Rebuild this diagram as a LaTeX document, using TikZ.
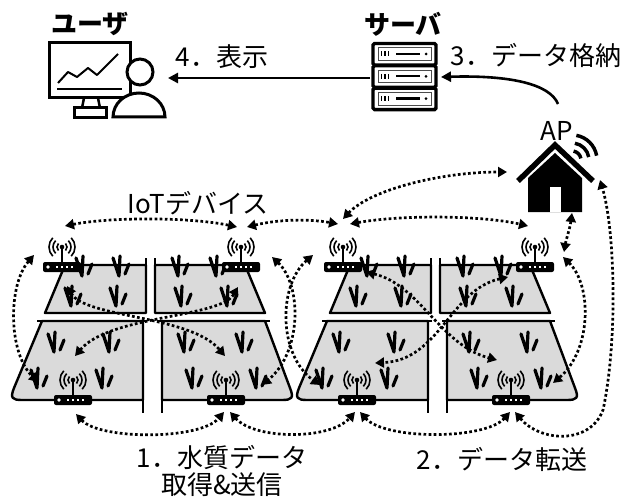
\documentclass[tikz,border=0pt]{standalone}
\usepackage{fontspec}
\newfontfamily\jp{Noto Sans CJK JP}
\usetikzlibrary{arrows.meta}
\definecolor{fieldgray}{RGB}{218,218,218}

\tikzset{
  plant/.pic={
    \draw[plantline] (-7,-8) -- (-1,10) -- (0,-10);
    \draw[plantline] (5,8) -- (9,-2);
  },
  router/.pic={
    \fill[rounded corners=2pt] (-19,-5) rectangle (19,5);
    \fill[white] (-14,0) circle (1.9);
    \foreach \xx in {-5,0,5,10} \fill[white] (\xx-1,-0.8) rectangle (\xx+1,0.8);
    \draw[line width=1.7pt] (0,-5) -- (0,-19);
    \fill (0,-20) circle (2.3);
    \foreach \rr in {5,9,13} {
      \draw[line width=1.6pt] (0,-20) ++(-45:\rr) arc[start angle=-45,end angle=45,radius=\rr];
      \draw[line width=1.6pt] (0,-20) ++(135:\rr) arc[start angle=135,end angle=225,radius=\rr];
    }
  },
  fieldset/.pic={
    % upper left plot
    \draw[field] (65,265) -- (146,265) -- (146,313) -- (45,313) -- cycle;
    \draw[edge] (146,258) -- (146,266);
    % upper right plot
    \draw[field] (155,265) -- (245,265) -- (265,313) -- (155,313) -- cycle;
    \draw[edge] (155,258) -- (155,266);
    % lower left plot
    \draw[field] (42,321) -- (14,388) .. controls (10,398) and (12,400) .. (22,400)
      -- (143,400) -- (143,321) -- cycle;
    \draw[edge] (143,399) -- (143,413);
    \draw[edge] (37,321) -- (147,321);
    % lower right plot
    \draw[field] (162,321) -- (265,321) -- (290,388) .. controls (294,398) and (292,400) .. (282,400)
      -- (162,400) -- cycle;
    \draw[edge] (162,399) -- (162,413);
    \draw[edge] (157,321) -- (270,321);
    % seedlings
    \foreach \px/\py in {83/266,120/266,72/296,117/296,
                         179/266,217/266,182/296,228/296,
                         55/342,110/342,38/378,103/378,
                         185/342,243/342,193/378,257/378}
      \pic at (\px,\py) {plant};
  },
}

\begin{document}
\begin{tikzpicture}[x=1pt,y=-1pt,
  field/.style={fill=fieldgray, draw=black, line width=2.4pt, line join=round},
  edge/.style={line width=2.4pt},
  plantline/.style={line width=3.2pt, line cap=round, line join=round},
  link/.style={line width=2.7pt, dash pattern=on 2.7pt off 2.4pt,
    {Triangle[length=9pt,width=10pt]}-{Triangle[length=9pt,width=10pt]}},
  flow/.style={line width=2.6pt, -{Triangle[length=10pt,width=10pt]}},
  lbl/.style={font=\jp\fontsize{26}{30}\selectfont, inner sep=0pt},
  ttl/.style={font=\jp\bfseries\fontsize{26}{30}\selectfont, inner sep=0pt},
]
\useasboundingbox (0,0) rectangle (624,500);

% ---------- user ----------
\draw[line width=3pt] (49,43) rectangle (130,98);
\draw[line width=2pt, line join=round] (58,83) -- (68,72) -- (77,77) -- (88,68) -- (97,75) -- (118,54);
\draw[line width=2pt] (57,89) -- (122,89);
\draw[line width=2.5pt] (84,98) -- (82,108) (98,98) -- (100,108);
\draw[line width=3pt, fill=white] (74,108) rectangle (106,118);
\draw[line width=3pt, fill=white] (113,117) arc[start angle=180, end angle=360, x radius=26, y radius=24] -- cycle;
\draw[line width=3pt, fill=white] (140,72) circle (13);
\coordinate (user) at (168,78);

% ---------- server ----------
\foreach \k in {0,1,2} {
  \draw[line width=3.4pt, fill=white, rounded corners=1.5pt] (373,43.5+22.3*\k) rectangle (436,65+22.3*\k);
  \draw[line width=1pt, draw=black!70] (378,48+22.3*\k) rectangle (431,60.5+22.3*\k);
  \foreach \tx in {381.5,385,388.5}
    \draw[line width=1.6pt] (\tx,51.5+22.3*\k) -- (\tx,56.5+22.3*\k);
  \draw[line width=2.2pt] (396,54+22.3*\k) -- (420,54+22.3*\k);
  \fill (426,54+22.3*\k) circle (1.5);
}
\coordinate (srv-w) at (370,78);
\coordinate (srv-e) at (441,77);

% ---------- access point ----------
\draw[line width=5.5pt, line join=miter] (518,181) -- (555,145) -- (593,181);
\fill (528,212) -- (528,178) -- (555,153) -- (582,178) -- (582,212) -- cycle;
\fill[white] (550,187) rectangle (561,212);
\foreach \rr in {9,17,25}
  \draw[line width=3.5pt] (572,160) ++(-80:\rr) arc[start angle=-80, end angle=-10, radius=\rr];
\coordinate (ap-top) at (558,104);
\coordinate (ap-w) at (507,172);
\coordinate (ap-s) at (572,213);
\coordinate (ap-e) at (600,180);

% ---------- fields ----------
\pic at (0,0) {fieldset};
\begin{scope}[shift={(285,0)}]
  \pic at (0,0) {fieldset};
\end{scope}

% ---------- devices ----------
\pic (tl1) at (62,267) {router};
\pic (tr1) at (241,267) {router};
\pic (bl1) at (73,400) {router};
\pic (br1) at (226,400) {router};
\pic (tl2) at (343,267) {router};
\pic (tr2) at (535,267) {router};
\pic (bl2) at (357,400) {router};
\pic (br2) at (511,400) {router};

% ---------- link end points ----------
\coordinate (tl1-n) at (65,226);   \coordinate (tr1-nw) at (237,227);
\coordinate (tr1-ne) at (247,227); \coordinate (tl2-nw) at (338,224);
\coordinate (tl2-ne) at (350,224); \coordinate (tr2-n) at (528,226);
\coordinate (tl2-n) at (343,219);  \coordinate (tr2-e) at (564,252);
\coordinate (bl1-s) at (76,414);   \coordinate (br1-sw) at (224,412);
\coordinate (br1-se) at (230,412); \coordinate (bl2-sw) at (355,412);
\coordinate (bl2-se) at (360,412); \coordinate (br2-sw) at (510,412);
\coordinate (br2-se) at (515,412);
\coordinate (tl1-in) at (67,286);  \coordinate (br1-in) at (225,356);
\coordinate (tr1-in) at (238,287); \coordinate (bl1-in) at (75,356);
\coordinate (tl1-w) at (34,255);   \coordinate (bl1-w) at (38,382);
\coordinate (tr1-e) at (272,257);  \coordinate (br1-e) at (262,385);
\coordinate (tl2-w) at (313,255);  \coordinate (bl2-w) at (320,385);
\coordinate (tr2-ee) at (563,257); \coordinate (br2-e) at (553,383);
\coordinate (tl2-in) at (366,272); \coordinate (br2-in) at (497,360);
\coordinate (tr2-in) at (508,277); \coordinate (bl2-in) at (375,363);

% ---------- wireless links ----------
\draw[link] (tl1-n) .. controls (110,217) and (190,217) .. (tr1-nw);
\draw[link] (tr1-ne) .. controls (280,219) and (310,219) .. (tl2-nw);
\draw[link] (tl2-ne) .. controls (400,215) and (480,215) .. (tr2-n);
\draw[link] (tl2-n) .. controls (370,190) and (440,172) .. (ap-w);
\draw[link] (ap-s) .. controls (570,228) and (566,240) .. (tr2-e);
\draw[link] (bl1-s) .. controls (100,440) and (200,440) .. (br1-sw);
\draw[link] (br1-se) .. controls (255,440) and (330,440) .. (bl2-sw);
\draw[link] (bl2-se) .. controls (385,440) and (485,440) .. (br2-sw);
\draw[link] (br2-se) .. controls (540,442) and (590,445) .. (603,410)
  .. controls (618,340) and (615,230) .. (ap-e);
\draw[link] (tl1-in) .. controls (85,318) and (190,315) .. (br1-in);
\draw[link] (tr1-in) .. controls (220,318) and (110,315) .. (bl1-in);
\draw[link] (tl1-w) .. controls (8,285) and (8,352) .. (bl1-w);
\draw[link] (tr1-e) .. controls (302,285) and (302,352) .. (br1-e);
\draw[link] (tl2-w) .. controls (278,285) and (278,355) .. (bl2-w);
\draw[link] (tr2-ee) .. controls (592,285) and (592,350) .. (br2-e);
\draw[link] (tl2-in) .. controls (420,285) and (440,345) .. (br2-in);
\draw[link] (tr2-in) .. controls (450,290) and (440,360) .. (bl2-in);

% ---------- data flow ----------
\draw[flow] (ap-top) .. controls (550,84) and (510,75) .. (srv-e);
\draw[flow] (srv-w) -- (user);

% ---------- labels ----------
\node[ttl] (user-t) at (90,24) {ユーザ};
\node[ttl] (srv-t) at (403,24) {サーバ};
\node[lbl] (show-t) at (222,57) {4．表示};
\node[lbl] (store-t) at (536,55) {3．データ格納};
\node[lbl] (ap-t) at (557,131) {AP};
\node[lbl] (iot-t) at (198,203) {IoTデバイス};
\node[lbl, align=center, font=\jp\fontsize{26}{27}\selectfont] (send-t) at (222,471) {1．水質データ\\取得\&送信};
\node[lbl] (fwd-t) at (502,459) {2．データ転送};
\end{tikzpicture}
\end{document}
